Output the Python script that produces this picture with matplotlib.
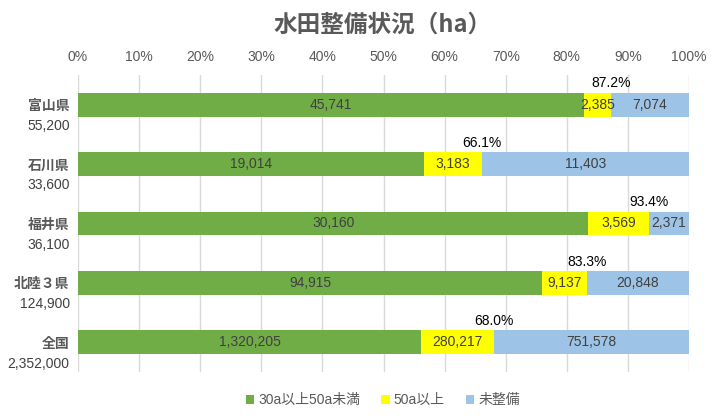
import matplotlib
matplotlib.use("Agg")
import matplotlib.pyplot as plt
from matplotlib.patches import Patch

plt.rcParams['font.family'] = ['Liberation Sans Narrow', 'Liberation Sans', 'Noto Sans CJK JP', 'DejaVu Sans']

categories = ['富山県', '石川県', '福井県', '北陸３県', '全国']
totals = [55200, 33600, 36100, 124900, 2352000]
s_30_50 = [45741, 19014, 30160, 94915, 1320205]
s_50 = [2385, 3183, 3569, 9137, 280217]
s_none = [7074, 11403, 2371, 20848, 751578]
series_names = ['30a以上50a未満', '50a以上', '未整備']
colors = ['#70AD47', '#FFFF00', '#9DC3E6']
ticks = [0, 10, 20, 30, 40, 50, 60, 70, 80, 90, 100]

fig = plt.figure(figsize=(7.2, 4.2), dpi=100)
ax = fig.add_axes([78/720, 1 - 372/420, 611/720, 297/420])

n = len(categories)
ypos = list(range(n))
series = [s_30_50, s_50, s_none]
left = [0.0] * n
for vals, col, name in zip(series, colors, series_names):
    widths = [v / t * 100 for v, t in zip(vals, totals)]
    ax.barh(ypos, widths, left=left, height=0.4, color=col, label=name, zorder=2)
    for i in range(n):
        ax.text(left[i] + widths[i] / 2, ypos[i], f'{vals[i]:,}', ha='center', va='center',
                fontsize=10, color='#404040', family=['Liberation Sans', 'DejaVu Sans'], zorder=3)
    left = [l + w for l, w in zip(left, widths)]

# percent labels
for i in range(n):
    pct = (s_30_50[i] + s_50[i]) / totals[i] * 100
    ax.text(pct, ypos[i] - 0.24, f'{pct:.1f}%', ha='center', va='bottom', fontsize=10,
            color='#000000', family=['Liberation Sans', 'DejaVu Sans'])

ax.set_xlim(0, 100)
ax.set_ylim(n - 0.5, -0.5)
ax.set_xticks(ticks)
ax.set_xticklabels([f'{t}%' for t in ticks], fontsize=10, color='#595959')
ax.xaxis.tick_top()
ax.tick_params(axis='x', length=0, pad=8)
ax.set_yticks([])
ax.grid(axis='x', color='#D9D9D9', linewidth=1, zorder=0)
for sp in ax.spines.values():
    sp.set_visible(False)

# category labels
for i in range(n):
    ax.annotate(categories[i], xy=(0, ypos[i]), xycoords=('axes fraction', 'data'),
                xytext=(-6, -1), textcoords='offset points', ha='right', va='center',
                fontsize=10, fontweight='bold', color='#595959',
                family=['Noto Sans CJK JP', 'DejaVu Sans'])
    ax.annotate(f'{totals[i]:,}', xy=(0, ypos[i] + 0.36), xycoords=('axes fraction', 'data'),
                xytext=(-6, 0), textcoords='offset points', ha='right', va='center',
                fontsize=10, color='#404040', family=['Liberation Sans', 'DejaVu Sans'])

fig.text(383/720, 1 - 25/420, '水田整備状況（ha）', ha='center', va='center', fontsize=17,
         fontweight='bold', color='#595959', family=['Noto Sans CJK JP', 'DejaVu Sans'])

handles = [Patch(facecolor=c, label=nm) for c, nm in zip(colors, series_names)]
leg = fig.legend(handles=handles, loc='center', bbox_to_anchor=(383/720, 1 - 400/420), ncol=3,
                 frameon=False, fontsize=10, handlelength=0.6, handleheight=0.6,
                 handletextpad=0.3, columnspacing=1.5)
for t in leg.get_texts():
    t.set_color('#595959')

fig.savefig('out.png', dpi=100)
